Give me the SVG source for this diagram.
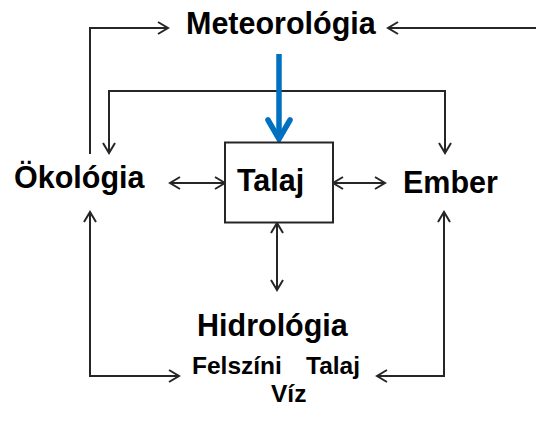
<svg xmlns="http://www.w3.org/2000/svg" width="536" height="429" viewBox="0 0 536 429">
  <style>
    .lbl { font-family: "Liberation Sans", Arial, sans-serif; font-weight: bold; fill: #000; }
    .big { font-size: 30.5px; }
    .small { font-size: 24.5px; }
    .con { fill: none; stroke: #262626; stroke-width: 2; }
  </style>
  <defs>
    <marker id="ah" markerUnits="userSpaceOnUse" markerWidth="14" markerHeight="16" refX="12" refY="8" orient="auto-start-reverse" viewBox="0 0 14 16">
      <path d="M2,2 L12,8 L2,14" fill="none" stroke="#262626" stroke-width="2" stroke-linejoin="miter"/>
    </marker>
  </defs>
  <rect width="536" height="429" fill="#fff"/>

  <g id="connectors">
    <path class="con" d="M90,154 V28 H168" marker-end="url(#ah)"/>
    <path class="con" d="M536,28 H388" marker-end="url(#ah)"/>
    <path class="con" d="M109,153 V91 H445 V153" marker-start="url(#ah)" marker-end="url(#ah)"/>
    <path class="con" d="M170,183 H225" marker-start="url(#ah)" marker-end="url(#ah)"/>
    <path class="con" d="M333,183 H385" marker-start="url(#ah)" marker-end="url(#ah)"/>
    <path class="con" d="M277,223 V290" marker-start="url(#ah)" marker-end="url(#ah)"/>
    <path class="con" d="M90,212 V376 H179" marker-start="url(#ah)" marker-end="url(#ah)"/>
    <path class="con" d="M444,212 V376 H377" marker-start="url(#ah)" marker-end="url(#ah)"/>
    <g id="blue-arrow">
      <path d="M279,54 V139" fill="none" stroke="#0070C0" stroke-width="5.5"/>
      <path d="M268,120 L279,139 L290,120" fill="none" stroke="#0070C0" stroke-width="5.5" stroke-linecap="round" stroke-linejoin="miter"/>
    </g>
  </g>

  <g id="meteorologia">
    <text class="lbl big" x="186" y="34">Meteorológia</text>
  </g>
  <g id="talaj">
    <rect x="225" y="142.5" width="108" height="80" fill="#fff" stroke="#262626" stroke-width="2"/>
    <text class="lbl big" x="237" y="191">Talaj</text>
  </g>
  <g id="okologia">
    <text class="lbl big" x="14" y="188">Ökológia</text>
  </g>
  <g id="ember">
    <text class="lbl big" x="403" y="193">Ember</text>
  </g>
  <g id="hidrologia">
    <text class="lbl big" x="197" y="336">Hidrológia</text>
    <text class="lbl small" x="192" y="374">Felszíni</text>
    <text class="lbl small" x="306" y="374">Talaj</text>
    <text class="lbl small" x="271" y="402">Víz</text>
  </g>
</svg>
